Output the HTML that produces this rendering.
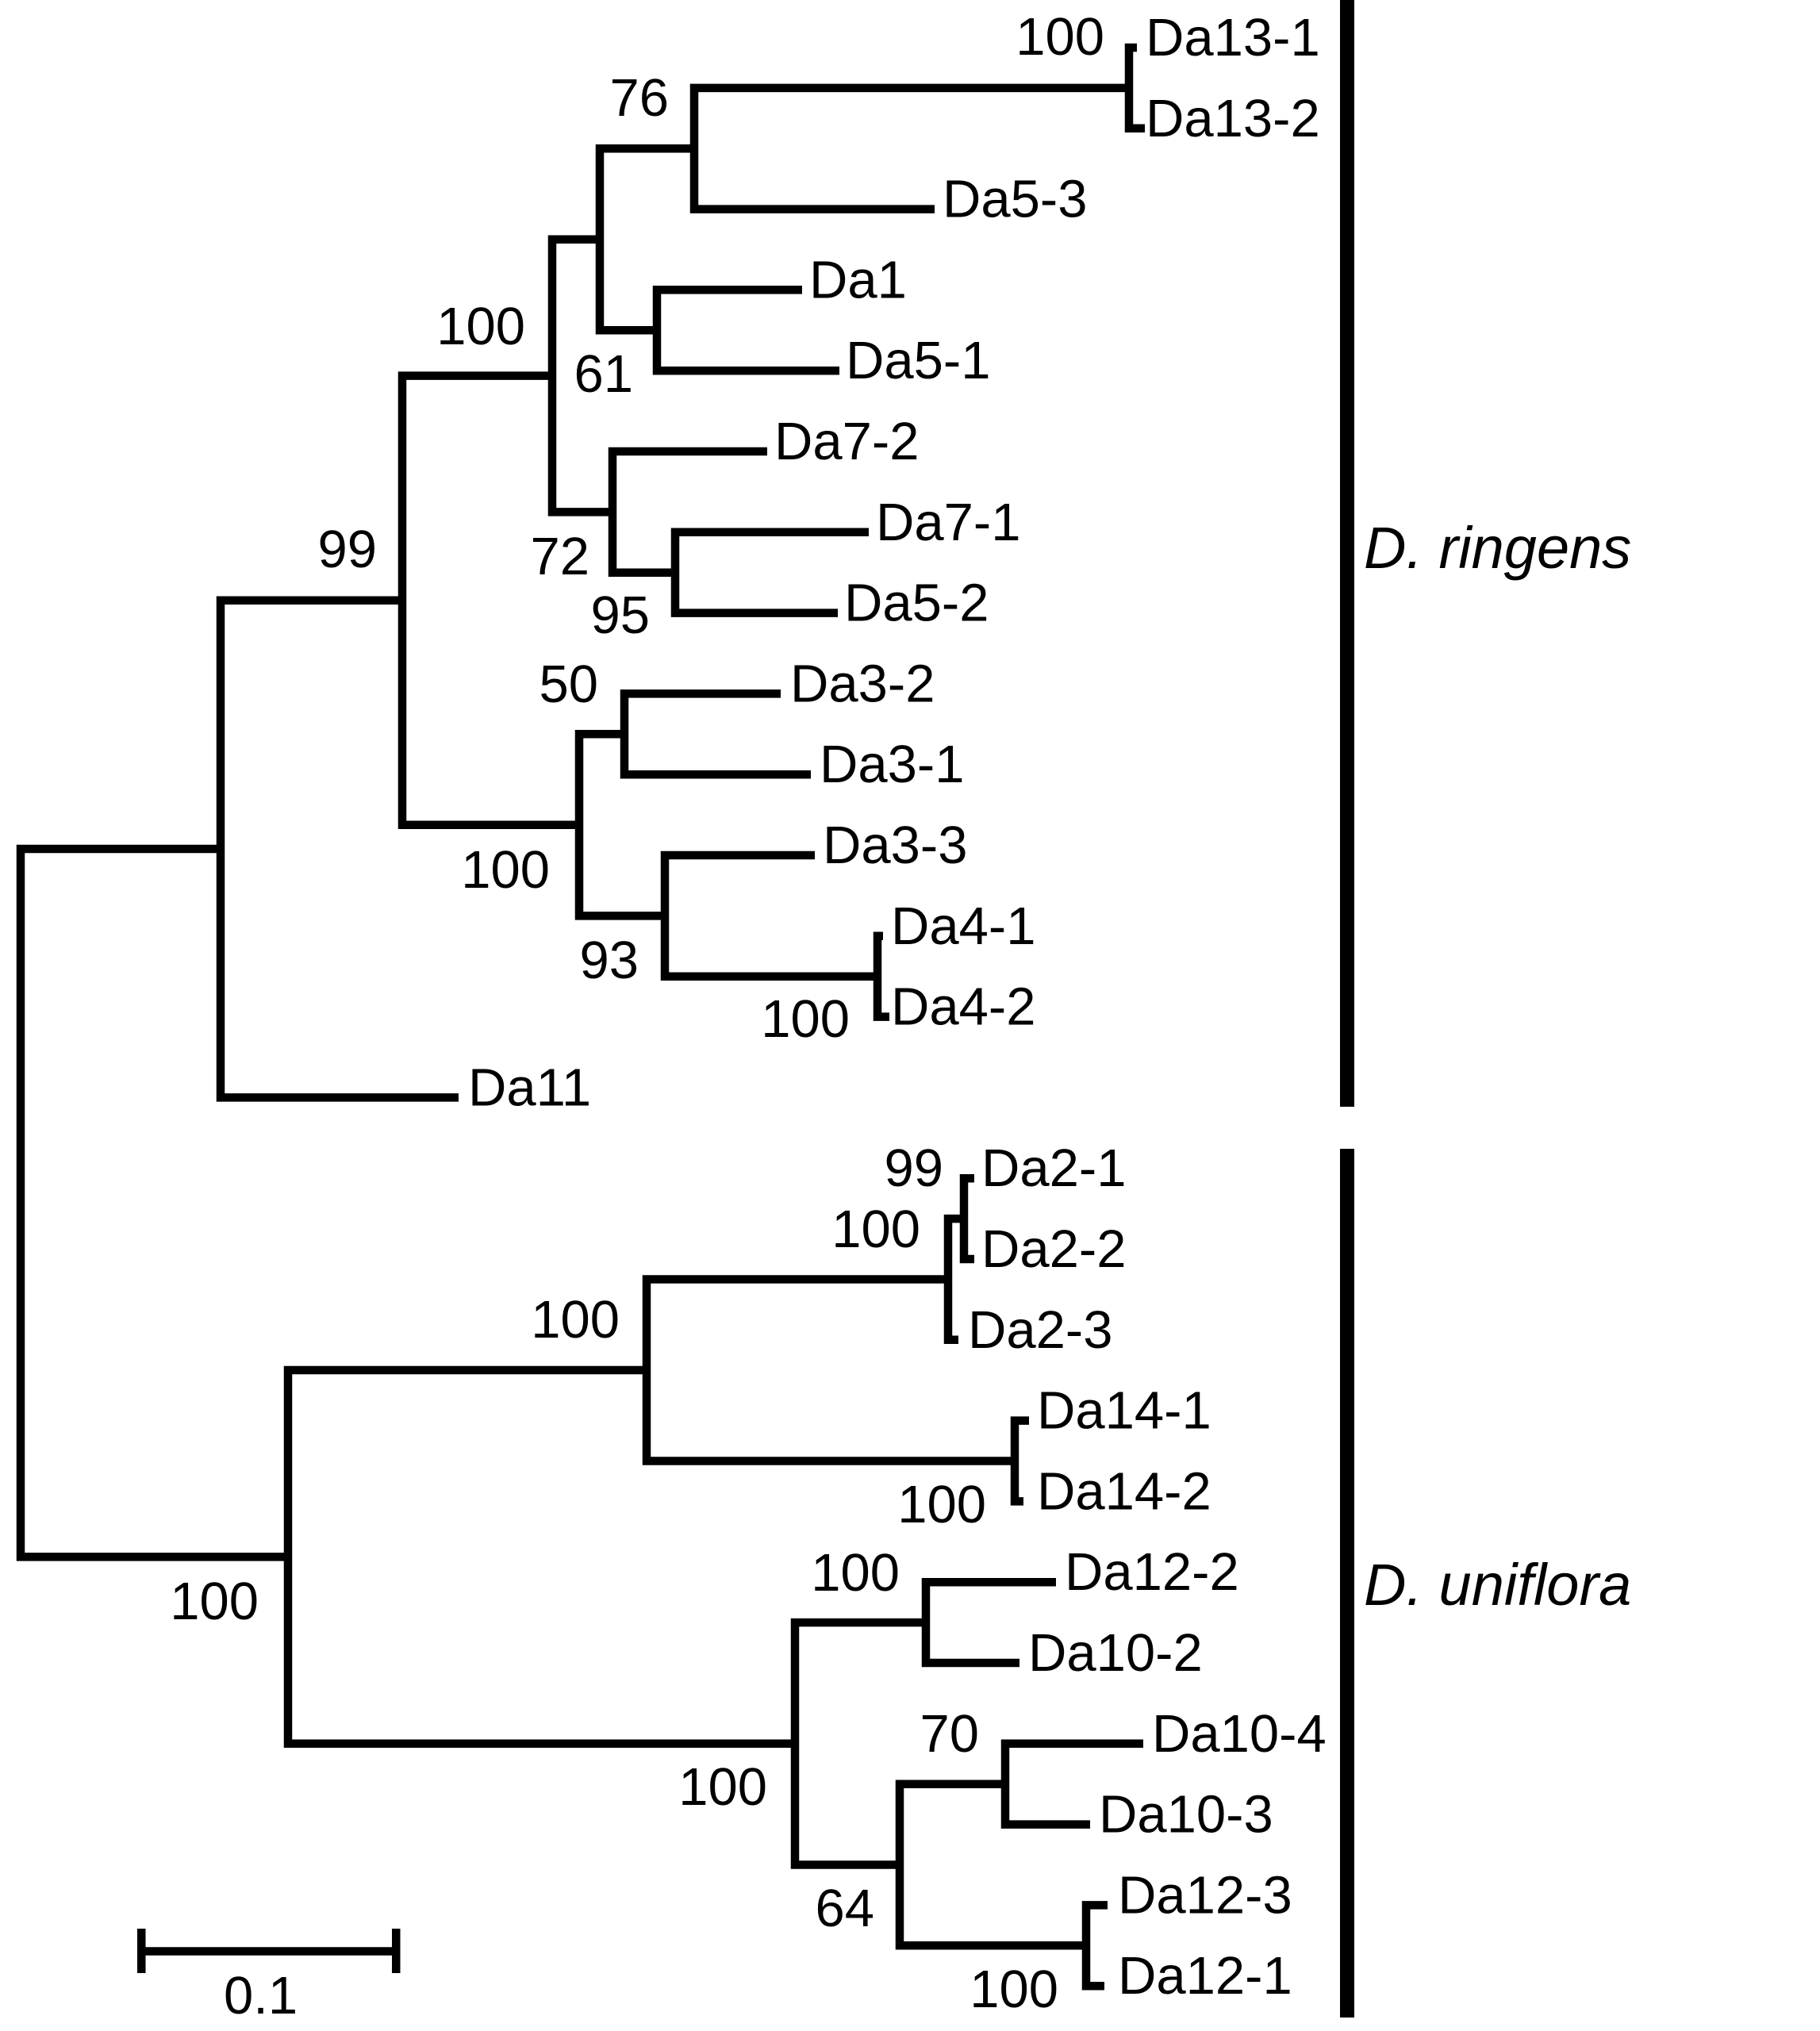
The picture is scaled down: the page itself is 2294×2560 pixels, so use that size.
<!DOCTYPE html>
<html>
<head>
<meta charset="utf-8">
<style>
html,body{margin:0;padding:0;background:#fff;}
svg{display:block;}
text{font-family:"Liberation Sans",Arial,sans-serif;font-size:67px;fill:#000;}
.sp{font-size:74px;font-style:italic;}
</style>
</head>
<body>
<svg width="2294" height="2560" viewBox="0 0 2294 2560" xmlns="http://www.w3.org/2000/svg">
<rect width="2294" height="2560" fill="#fff"/>
<g fill="none" stroke="#000" stroke-width="10.5" stroke-linejoin="miter" stroke-linecap="butt">
  <path d="M278 1070.05 H26 V1962.39 H363"/>
  <path d="M507 756.7 H278 V1383.4 H578"/>
  <path d="M696 473.6 H507 V1039.8 H730"/>
  <path d="M756 301.8 H696 V645.35 H772"/>
  <path d="M875 187.25 H756 V416.3 H828"/>
  <path d="M1423 110.9 H875 V263.6 H1178"/>
  <path d="M1433 60 H1423 V161.8 H1443"/>
  <path d="M1011 365.4 H828 V467.2 H1058"/>
  <path d="M967 569 H772 V721.7 H851"/>
  <path d="M1095 670.8 H851 V772.6 H1056"/>
  <path d="M787 925.3 H730 V1154.35 H838"/>
  <path d="M984 874.4 H787 V976.2 H1022"/>
  <path d="M1027 1078 H838 V1230.7 H1106"/>
  <path d="M1113 1179.8 H1106 V1281.6 H1121"/>
  <path d="M815 1726.98 H363 V2197.8 H1002"/>
  <path d="M1195 1612.45 H815 V1841.5 H1279"/>
  <path d="M1215 1536.1 H1195 V1688.8 H1208"/>
  <path d="M1228 1485.2 H1215 V1587 H1228"/>
  <path d="M1297 1790.6 H1279 V1892.4 H1290"/>
  <path d="M1167 2045.1 H1002 V2350.5 H1134"/>
  <path d="M1331 1994.2 H1167 V2096 H1285"/>
  <path d="M1267 2248.7 H1134 V2452.3 H1369"/>
  <path d="M1441 2197.8 H1267 V2299.6 H1374"/>
  <path d="M1396 2401.4 H1369 V2503.2 H1392"/>
  <path d="M178 2459.5 H499"/>
</g>
<rect x="173" y="2431" width="10.5" height="56" fill="#000"/>
<rect x="494" y="2431" width="10.5" height="56" fill="#000"/>
<rect x="1689" y="0" width="18" height="1395" fill="#000"/>
<rect x="1689" y="1448" width="18" height="1095" fill="#000"/>

<text x="1444" y="70">Da13-1</text>
<text x="1444" y="172">Da13-2</text>
<text x="1188" y="273.6">Da5-3</text>
<text x="1020" y="375.4">Da1</text>
<text x="1066" y="477.2">Da5-1</text>
<text x="976" y="579">Da7-2</text>
<text x="1104" y="680.8">Da7-1</text>
<text x="1064" y="782.6">Da5-2</text>
<text x="996" y="884.4">Da3-2</text>
<text x="1033" y="986.2">Da3-1</text>
<text x="1037" y="1088">Da3-3</text>
<text x="1123" y="1189.8">Da4-1</text>
<text x="1123" y="1291.6">Da4-2</text>
<text x="590" y="1393.4">Da11</text>
<text x="1237" y="1495.2">Da2-1</text>
<text x="1237" y="1597">Da2-2</text>
<text x="1220" y="1698.8">Da2-3</text>
<text x="1307" y="1800.6">Da14-1</text>
<text x="1307" y="1902.4">Da14-2</text>
<text x="1342" y="2004.2">Da12-2</text>
<text x="1296" y="2106">Da10-2</text>
<text x="1452" y="2207.8">Da10-4</text>
<text x="1385" y="2309.6">Da10-3</text>
<text x="1409" y="2411.4">Da12-3</text>
<text x="1409" y="2513.2">Da12-1</text>

<g text-anchor="end">
<text x="1392" y="69">100</text>
<text x="843" y="146">76</text>
<text x="662" y="434">100</text>
<text x="798" y="494">61</text>
<text x="475" y="715">99</text>
<text x="743" y="724">72</text>
<text x="819" y="798">95</text>
<text x="754" y="885">50</text>
<text x="693" y="1119">100</text>
<text x="805" y="1233">93</text>
<text x="1071" y="1307">100</text>
<text x="1189" y="1495">99</text>
<text x="1160" y="1572">100</text>
<text x="781" y="1686">100</text>
<text x="1243" y="1919">100</text>
<text x="326" y="2041">100</text>
<text x="1134" y="2005">100</text>
<text x="967" y="2275">100</text>
<text x="1102" y="2428">64</text>
<text x="1234" y="2208">70</text>
<text x="1334" y="2530">100</text>
</g>

<text x="282" y="2538">0.1</text>

<text class="sp" x="1719" y="716">D. ringens</text>
<text class="sp" x="1719" y="2023">D. uniflora</text>
</svg>
</body>
</html>
